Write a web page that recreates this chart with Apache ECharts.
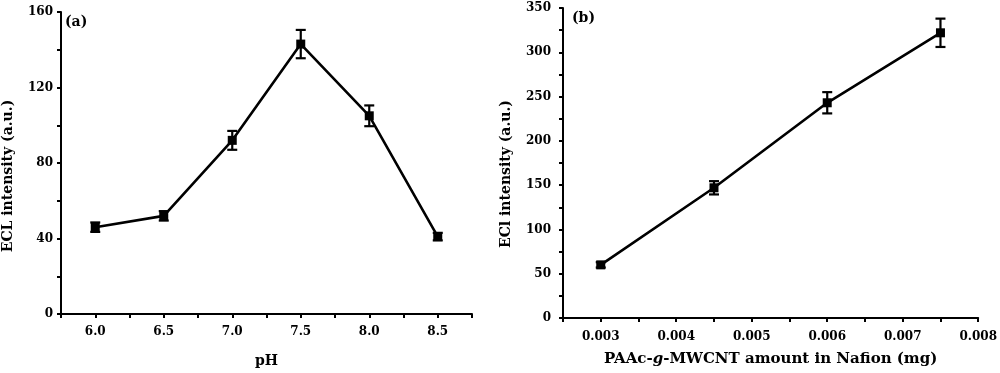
<!DOCTYPE html>
<html><head><meta charset="utf-8">
<script src="https://cdn.jsdelivr.net/npm/echarts@6/dist/echarts.min.js"></script>
<style>html,body{margin:0;padding:0;background:#fff}#c{width:1000px;height:373px}</style>
</head><body><div id="c"></div>
<script>
// Panel (a)
const phValues = [6.0, 6.5, 7.0, 7.5, 8.0, 8.5];
const phIntensity = [46, 52, 92, 143, 105, 41];
const phError = [2.5, 2.5, 5, 7.5, 5.5, 2];
// Panel (b)
const amountValues = [0.003, 0.0045, 0.006, 0.0075];
const amountIntensity = [60, 147, 243, 322];
const amountError = [3, 7.5, 12, 16];

const FONT = '"DejaVu Serif", "Liberation Serif", serif';
const black = '#000';

function errData(xs, ys, es) { return xs.map((x, i) => [x, ys[i] - es[i], ys[i] + es[i]]); }
function errRender(params, api) {
  const x = api.value(0);
  const lo = api.coord([x, api.value(1)]);
  const hi = api.coord([x, api.value(2)]);
  const w = 5;
  const st = { stroke: black, lineWidth: 2.2 };
  return { type: 'group', children: [
    { type: 'line', shape: { x1: lo[0], y1: lo[1], x2: hi[0], y2: hi[1] }, style: st },
    { type: 'line', shape: { x1: lo[0] - w, y1: lo[1], x2: lo[0] + w, y2: lo[1] }, style: st },
    { type: 'line', shape: { x1: hi[0] - w, y1: hi[1], x2: hi[0] + w, y2: hi[1] }, style: st }
  ]};
}
function near(v, step) { const r = v / step; return Math.abs(r - Math.round(r)) < 1e-6; }

const axisCommon = {
  axisLine: { show: true, onZero: false, lineStyle: { color: black, width: 2 } },
  axisTick: { show: true, inside: false, length: 4, lineStyle: { color: black, width: 2 } },
  splitLine: { show: false },
  axisLabel: { color: black, fontFamily: FONT, fontWeight: 'bold', fontSize: 12 },
  nameTextStyle: { color: black, fontFamily: FONT, fontWeight: 'bold', fontSize: 14 },
  nameLocation: 'middle'
};

const chart = echarts.init(document.getElementById('c'), null, { renderer: 'canvas' });
chart.setOption({
  animation: false,
  backgroundColor: '#fff',
  graphic: [
    { type: 'text', left: 65, top: 15, style: { text: '(a)', font: 'bold 14px ' + FONT, fill: black } },
    { type: 'text', left: 572, top: 11, style: { text: '(b)', font: 'bold 14px ' + FONT, fill: black } }
  ],
  grid: [
    { left: 59, top: 12, width: 413, height: 306 },
    { left: 563, top: 8, width: 419, height: 310 }
  ],
  xAxis: [
    Object.assign({}, axisCommon, {
      gridIndex: 0, type: 'value', min: 5.75, max: 8.75, interval: 0.25,
      name: 'pH', nameGap: 40,
      axisLabel: Object.assign({}, axisCommon.axisLabel, { margin: 12,
        formatter: v => near(v, 0.5) && v > 5.8 && v < 8.7 ? v.toFixed(1) : '' })
    }),
    Object.assign({}, axisCommon, {
      gridIndex: 1, type: 'value', min: 0.0025, max: 0.008, interval: 0.0005,
      name: '{n|PAAc-}{i|g}{n|-MWCNT amount in Nafion (mg)}', nameGap: 34,
      nameTextStyle: Object.assign({}, axisCommon.nameTextStyle, {
        rich: {
          n: { fontFamily: FONT, fontWeight: 'bold', fontSize: 15, color: black },
          i: { fontFamily: FONT, fontWeight: 'bold', fontStyle: 'italic', fontSize: 15, color: black }
        }
      }),
      axisLabel: Object.assign({}, axisCommon.axisLabel, { margin: 13,
        formatter: v => near(v, 0.001) && v > 0.0028 ? v.toFixed(3) : '' })
    })
  ],
  yAxis: [
    Object.assign({}, axisCommon, {
      gridIndex: 0, type: 'value', min: 0, max: 160, interval: 20,
      name: 'ECL intensity (a.u.)', nameGap: 46,
      nameTextStyle: Object.assign({}, axisCommon.nameTextStyle, { padding: [0, 26, 0, 0] }),
      axisLabel: Object.assign({}, axisCommon.axisLabel, { margin: 8,
        formatter: v => near(v, 40) ? String(v) : '' })
    }),
    Object.assign({}, axisCommon, {
      gridIndex: 1, type: 'value', min: 0, max: 350, interval: 25,
      name: 'ECl intensity (a.u.)', nameGap: 50,
      nameTextStyle: Object.assign({}, axisCommon.nameTextStyle, { padding: [0, 22, 0, 0] }),
      axisLabel: Object.assign({}, axisCommon.axisLabel, { margin: 12,
        formatter: v => near(v, 50) ? String(v) : '' })
    })
  ],
  series: [
    { type: 'line', xAxisIndex: 0, yAxisIndex: 0, data: phValues.map((x, i) => [x, phIntensity[i]]),
      symbol: 'rect', symbolSize: 9, itemStyle: { color: black }, lineStyle: { color: black, width: 2.6 }, z: 3 },
    { type: 'custom', xAxisIndex: 0, yAxisIndex: 0, data: errData(phValues, phIntensity, phError),
      renderItem: errRender, z: 4 },
    { type: 'line', xAxisIndex: 1, yAxisIndex: 1, data: amountValues.map((x, i) => [x, amountIntensity[i]]),
      symbol: 'rect', symbolSize: 9, itemStyle: { color: black }, lineStyle: { color: black, width: 2.6 }, z: 3 },
    { type: 'custom', xAxisIndex: 1, yAxisIndex: 1, data: errData(amountValues, amountIntensity, amountError),
      renderItem: errRender, z: 4 }
  ]
});
</script></body></html>
